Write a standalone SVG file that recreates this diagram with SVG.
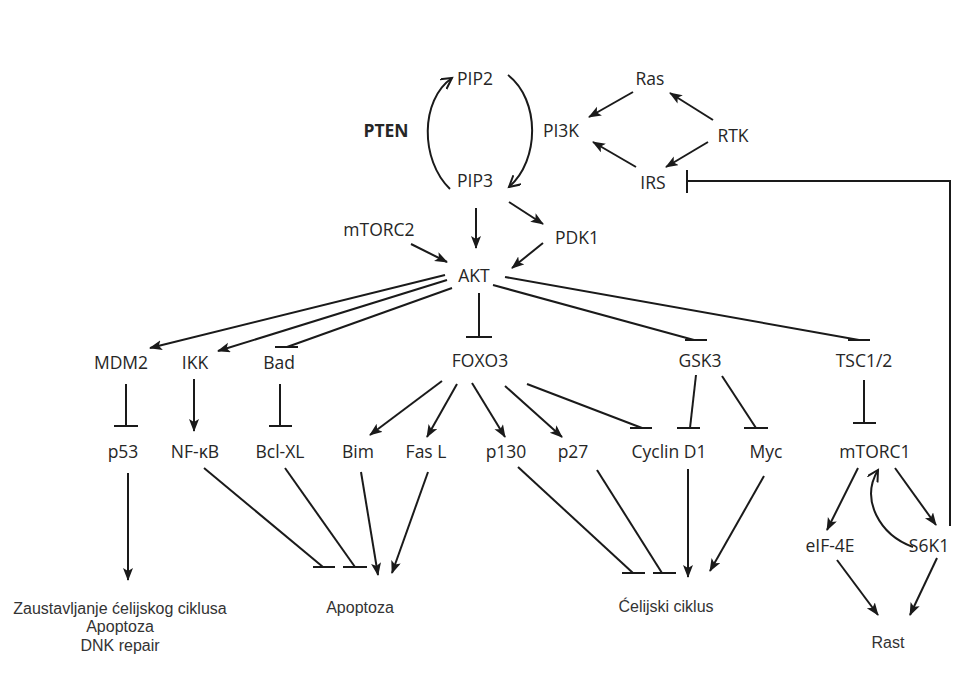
<svg xmlns="http://www.w3.org/2000/svg" width="955" height="681" viewBox="0 0 955 681">
<defs>
<marker id="arr" markerUnits="userSpaceOnUse" markerWidth="14" markerHeight="12" refX="12" refY="5" orient="auto">
<path d="M0,0 L13,5 L0,10 L3,5 z" fill="#1a1a1a"/>
</marker>
<marker id="varr" markerUnits="userSpaceOnUse" markerWidth="16" markerHeight="16" refX="11" refY="6" orient="auto">
<path d="M0,0 L11,6 L0,12" fill="none" stroke="#1a1a1a" stroke-width="2"/>
</marker>
</defs>
<style>
.n{font-family:"Open Sans","Noto Sans",sans-serif;font-size:17.5px;fill:#262626;text-anchor:middle}
.b{font-weight:bold}
.o{font-family:"Liberation Sans",Arial,sans-serif;font-size:16px;fill:#333;text-anchor:middle}
.c line,.c path,.c polyline{stroke:#1a1a1a;stroke-width:2;fill:none}
.a{marker-end:url(#arr)}
.v{marker-end:url(#varr)}
</style>
<rect width="955" height="681" fill="#fff"/>
<g class="c" id="connectors">
<path class="v" d="M450,189 C420,160 420,100 452,78"/>
<path class="v" d="M508,75 C540,100 540,160 509,187"/>
<line class="a" x1="476" y1="208" x2="476" y2="248"/>
<line class="a" x1="509" y1="202" x2="543" y2="224"/>
<line class="a" x1="411" y1="244" x2="447" y2="262"/>
<line class="a" x1="543" y1="243" x2="512" y2="268"/>
<line class="a" x1="633" y1="92" x2="589" y2="117"/>
<line class="a" x1="713" y1="120" x2="670" y2="93"/>
<line class="a" x1="636" y1="167" x2="593" y2="142"/>
<line class="a" x1="708" y1="142" x2="666" y2="167"/>
<polyline points="950,526 950,181 687,181"/>
<line x1="687" y1="170" x2="687" y2="193"/>
<line class="a" x1="445" y1="275" x2="150" y2="348"/>
<line class="a" x1="447" y1="280" x2="218" y2="351"/>
<line x1="452" y1="288" x2="287" y2="347"/><line x1="275" y1="347" x2="298" y2="347"/>
<line x1="479" y1="293" x2="479" y2="337"/><line x1="466" y1="337" x2="492" y2="337"/>
<line x1="493" y1="285" x2="694" y2="340"/><line x1="685" y1="340" x2="707" y2="340"/>
<line x1="505" y1="277" x2="859" y2="340"/><line x1="848" y1="340" x2="870" y2="340"/>
<line x1="126" y1="384" x2="126" y2="426"/><line x1="114" y1="426" x2="138" y2="426"/>
<line class="a" x1="194" y1="379" x2="194" y2="431"/>
<line x1="280" y1="384" x2="280" y2="426"/><line x1="269" y1="426" x2="292" y2="426"/>
<line class="a" x1="442" y1="381" x2="370" y2="435"/>
<line class="a" x1="457" y1="384" x2="427" y2="437"/>
<line class="a" x1="472" y1="383" x2="505" y2="437"/>
<line class="a" x1="505" y1="386" x2="562" y2="437"/>
<line x1="527" y1="384" x2="642" y2="428"/><line x1="630" y1="428" x2="652" y2="428"/>
<line x1="696" y1="375" x2="690" y2="428"/><line x1="677" y1="428" x2="700" y2="428"/>
<line x1="722" y1="376" x2="756" y2="428"/><line x1="744" y1="428" x2="768" y2="428"/>
<line x1="864" y1="380" x2="864" y2="423"/><line x1="853" y1="423" x2="876" y2="423"/>
<line class="a" x1="128" y1="473" x2="128" y2="580"/>
<line x1="204" y1="468" x2="323" y2="567"/><line x1="313" y1="567" x2="335" y2="567"/>
<line x1="285" y1="468" x2="355" y2="567"/><line x1="343" y1="567" x2="367" y2="567"/>
<line class="a" x1="361" y1="472" x2="378" y2="575"/>
<line class="a" x1="428" y1="472" x2="392" y2="573"/>
<line x1="518" y1="467" x2="633" y2="573"/><line x1="622" y1="573" x2="645" y2="573"/>
<line x1="597" y1="470" x2="662" y2="573"/><line x1="653" y1="573" x2="676" y2="573"/>
<line class="a" x1="688" y1="469" x2="688" y2="577"/>
<line class="a" x1="764" y1="476" x2="710" y2="571"/>
<line class="a" x1="858" y1="468" x2="827" y2="530"/>
<line class="a" x1="895" y1="468" x2="936" y2="525"/>
<path class="v" d="M913,547 C880,535 860,500 878,470"/>
<line class="a" x1="837" y1="560" x2="878" y2="615"/>
<line class="a" x1="937" y1="558" x2="910" y2="615"/>
</g>
<g id="PIP2"><text class="n" x="475" y="85">PIP2</text></g>
<g id="PTEN"><text class="n b" x="386" y="137">PTEN</text></g>
<g id="PI3K"><text class="n" x="561" y="137">PI3K</text></g>
<g id="PIP3"><text class="n" x="475" y="187">PIP3</text></g>
<g id="Ras"><text class="n" x="650" y="85">Ras</text></g>
<g id="RTK"><text class="n" x="733" y="142">RTK</text></g>
<g id="IRS"><text class="n" x="653" y="189">IRS</text></g>
<g id="mTORC2"><text class="n" x="379" y="236">mTORC2</text></g>
<g id="PDK1"><text class="n" x="577" y="244">PDK1</text></g>
<g id="AKT"><text class="n" x="474" y="282">AKT</text></g>
<g id="MDM2"><text class="n" x="121" y="369">MDM2</text></g>
<g id="IKK"><text class="n" x="195" y="369">IKK</text></g>
<g id="Bad"><text class="n" x="279" y="369">Bad</text></g>
<g id="FOXO3"><text class="n" x="480" y="367">FOXO3</text></g>
<g id="GSK3"><text class="n" x="700" y="367">GSK3</text></g>
<g id="TSC12"><text class="n" x="864" y="367">TSC1/2</text></g>
<g id="p53"><text class="n" x="123" y="458">p53</text></g>
<g id="NFkB"><text class="n" x="195" y="458">NF-κB</text></g>
<g id="BclXL"><text class="n" x="280" y="458">Bcl-XL</text></g>
<g id="Bim"><text class="n" x="358" y="458">Bim</text></g>
<g id="FasL"><text class="n" x="426" y="458">Fas L</text></g>
<g id="p130"><text class="n" x="506" y="458">p130</text></g>
<g id="p27"><text class="n" x="573" y="458">p27</text></g>
<g id="CyclinD1"><text class="n" x="669" y="458">Cyclin D1</text></g>
<g id="Myc"><text class="n" x="766" y="458">Myc</text></g>
<g id="mTORC1"><text class="n" x="875" y="458">mTORC1</text></g>
<g id="eIF4E"><text class="n" x="830" y="552">eIF-4E</text></g>
<g id="S6K1"><text class="n" x="929" y="552">S6K1</text></g>
<g id="out1"><text class="o" x="120" y="614">Zaustavljanje ćelijskog ciklusa</text><text class="o" x="120" y="632">Apoptoza</text><text class="o" x="120" y="651">DNK repair</text></g>
<g id="out2"><text class="o" x="360" y="613">Apoptoza</text></g>
<g id="out3"><text class="o" x="666" y="612">Ćelijski ciklus</text></g>
<g id="out4"><text class="o" x="888" y="648">Rast</text></g>
</svg>
